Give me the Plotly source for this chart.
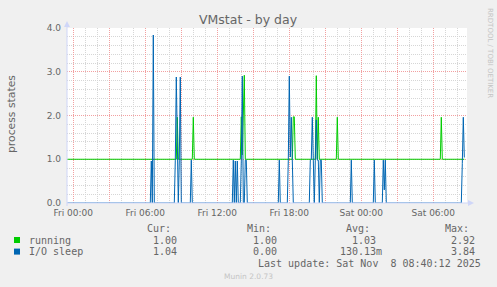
import plotly.graph_objects as go

# ---------------- data (5-minute samples) ----------------
running_times = [
    "2025-11-06 23:30", "2025-11-07 08:35", "2025-11-07 08:40", "2025-11-07 08:45",
    "2025-11-07 09:55", "2025-11-07 10:00", "2025-11-07 10:05",
    "2025-11-07 13:55", "2025-11-07 14:00", "2025-11-07 14:05", "2025-11-07 14:10",
    "2025-11-07 14:15", "2025-11-07 14:20",
    "2025-11-07 18:15", "2025-11-07 18:20", "2025-11-07 18:25", "2025-11-07 18:30",
    "2025-11-07 20:10", "2025-11-07 20:15", "2025-11-07 20:20", "2025-11-07 20:25",
    "2025-11-07 20:30",
    "2025-11-07 21:55", "2025-11-07 22:00", "2025-11-07 22:05",
    "2025-11-08 06:35", "2025-11-08 06:40", "2025-11-08 06:45", "2025-11-08 08:35",
]
running_values = [
    1.0, 1.0, 1.96, 1.0,
    1.0, 1.96, 1.0,
    1.0, 1.97, 1.1, 2.0,
    2.92, 1.0,
    1.0, 1.97, 1.97, 1.0,
    1.0, 2.91, 1.0, 1.96,
    1.0,
    1.0, 1.96, 1.0,
    1.0, 1.96, 1.0, 1.0,
]

io_times = [
    "2025-11-06 23:30",
    "2025-11-07 06:25", "2025-11-07 06:30", "2025-11-07 06:35", "2025-11-07 06:40", "2025-11-07 06:45",
    "2025-11-07 08:25", "2025-11-07 08:30", "2025-11-07 08:35", "2025-11-07 08:40",
    "2025-11-07 08:45", "2025-11-07 08:50", "2025-11-07 08:55", "2025-11-07 09:00",
    "2025-11-07 09:45", "2025-11-07 09:50", "2025-11-07 09:55",
    "2025-11-07 13:15", "2025-11-07 13:20", "2025-11-07 13:25", "2025-11-07 13:30",
    "2025-11-07 13:35", "2025-11-07 13:40", "2025-11-07 13:45",
    "2025-11-07 13:55", "2025-11-07 14:00", "2025-11-07 14:05", "2025-11-07 14:10",
    "2025-11-07 14:15", "2025-11-07 14:20", "2025-11-07 14:25", "2025-11-07 14:30",
    "2025-11-07 17:05", "2025-11-07 17:10", "2025-11-07 17:15",
    "2025-11-07 17:50", "2025-11-07 17:55", "2025-11-07 18:00", "2025-11-07 18:05",
    "2025-11-07 18:10", "2025-11-07 18:15", "2025-11-07 18:20",
    "2025-11-07 19:40", "2025-11-07 19:45", "2025-11-07 19:50", "2025-11-07 19:55",
    "2025-11-07 20:00", "2025-11-07 20:05", "2025-11-07 20:10", "2025-11-07 20:15",
    "2025-11-07 20:20", "2025-11-07 20:25", "2025-11-07 20:30", "2025-11-07 20:35",
    "2025-11-07 20:40", "2025-11-07 20:45",
    "2025-11-07 23:05", "2025-11-07 23:10", "2025-11-07 23:15",
    "2025-11-08 01:00", "2025-11-08 01:05", "2025-11-08 01:10",
    "2025-11-08 01:45", "2025-11-08 01:50", "2025-11-08 01:55", "2025-11-08 02:00",
    "2025-11-08 02:05",
    "2025-11-08 08:20", "2025-11-08 08:25", "2025-11-08 08:30", "2025-11-08 08:35",
]
io_values = [
    0.0,
    0.0, 0.96, 0.0, 3.84, 0.0,
    0.0, 0.98, 2.88, 0.98,
    0.0, 0.98, 2.88, 0.0,
    0.0, 0.98, 0.0,
    0.0, 0.98, 0.0, 0.96,
    0.0, 0.96, 0.0,
    0.0, 0.98, 2.9, 0.0,
    0.0, 0.98, 0.98, 0.0,
    0.0, 0.98, 0.0,
    0.0, 0.98, 2.9, 1.05,
    1.96, 0.98, 0.0,
    0.0, 0.98, 1.0, 1.96,
    0.98, 0.0, 0.98, 1.9,
    0.98, 0.98, 0.0, 0.98,
    0.98, 0.0,
    0.0, 0.98, 0.0,
    0.0, 0.98, 0.0,
    0.0, 0.98, 0.3, 0.98,
    0.0,
    0.0, 0.9, 1.96, 1.04,
]

x_tick_vals = ["2025-11-07 00:00", "2025-11-07 03:00", "2025-11-07 06:00", "2025-11-07 09:00",
               "2025-11-07 12:00", "2025-11-07 15:00", "2025-11-07 18:00", "2025-11-07 21:00",
               "2025-11-08 00:00", "2025-11-08 03:00", "2025-11-08 06:00"]
x_tick_text = ["Fri 00:00", "", "Fri 06:00", "", "Fri 12:00", "", "Fri 18:00", "",
               "Sat 00:00", "", "Sat 06:00"]
y_tick_vals = [0, 1, 2, 3, 4]
y_tick_text = ["0.0", "1.0", "2.0", "3.0", "4.0"]

series_names = ["running", "I/O sleep"]
series_colors = ["#00CC00", "#0066B3"]
stat_headers = ["Cur:", "Min:", "Avg:", "Max:"]
stats = [["1.00", "1.00", "1.03", "2.92"],
         ["1.04", "0.00", "130.13m", "3.84"]]

# ---------------- layout geometry (pixels) ----------------
FW, FH = 497, 287
L, T, W, H = 67, 28, 400, 175


def px(x):
    return (x - L) / W


def py(y):
    return (T + H - y) / H


FONT = "DejaVu Sans"
MONO = "DejaVu Sans Mono"
FC = "#666666"
AXIS = "#CFD6F8"

fig = go.Figure()
fig.add_trace(go.Scatter(x=running_times, y=running_values, mode="lines",
                         line=dict(color=series_colors[0], width=1), name=series_names[0],
                         hoverinfo="skip"))
fig.add_trace(go.Scatter(x=io_times, y=io_values, mode="lines",
                         line=dict(color=series_colors[1], width=1), name=series_names[1],
                         hoverinfo="skip"))

fig.update_layout(
    width=FW, height=FH,
    margin=dict(l=L, r=FW - L - W, t=T, b=FH - T - H, pad=0),
    paper_bgcolor="#F0F0F0", plot_bgcolor="#FFFFFF",
    showlegend=False,
    font=dict(family=FONT, size=9, color=FC),
)
fig.update_xaxes(
    type="date", range=["2025-11-06 23:28:30", "2025-11-08 08:48:30"],
    tickmode="array", tickvals=x_tick_vals, ticktext=x_tick_text,
    showgrid=True, gridcolor="#F2A0A0", griddash="1px,1px", gridwidth=1,
    minor=dict(dtick=3600000, tick0="2025-11-07 00:00", showgrid=True,
               gridcolor="#D6D6D6", griddash="1px,1px", gridwidth=1),
    showline=False, zeroline=False, ticks="", ticklabelstandoff=3,
    tickfont=dict(family=FONT, size=9, color=FC),
)
fig.update_yaxes(
    range=[0, 4], tickmode="array", tickvals=y_tick_vals, ticktext=y_tick_text,
    showgrid=True, gridcolor="#F2A0A0", griddash="1px,1px", gridwidth=1,
    minor=dict(dtick=0.2, tick0=0, showgrid=True,
               gridcolor="#D6D6D6", griddash="1px,1px", gridwidth=1),
    showline=False, zeroline=False, ticks="", ticklabelstandoff=5,
    tickfont=dict(family=FONT, size=9, color=FC),
)

shapes = []
# axes with arrows
shapes.append(dict(type="line", xref="paper", yref="paper", x0=px(L), x1=px(470), y0=py(203), y1=py(203),
                   line=dict(color=AXIS, width=1)))
shapes.append(dict(type="line", xref="paper", yref="paper", x0=px(L), x1=px(L), y0=py(206), y1=py(25),
                   line=dict(color=AXIS, width=1)))
shapes.append(dict(type="path", xref="paper", yref="paper",
                   path=f"M {px(468)},{py(200)} L {px(474)},{py(203)} L {px(468)},{py(206)} Z",
                   fillcolor=AXIS, line=dict(color=AXIS, width=0)))
shapes.append(dict(type="path", xref="paper", yref="paper",
                   path=f"M {px(64)},{py(27)} L {px(67)},{py(21)} L {px(70)},{py(27)} Z",
                   fillcolor=AXIS, line=dict(color=AXIS, width=0)))
# legend squares
for i, c in enumerate(series_colors):
    yc = 240 + 11.6 * i
    shapes.append(dict(type="rect", xref="paper", yref="paper",
                       x0=px(14), x1=px(20), y0=py(yc - 3), y1=py(yc + 3),
                       fillcolor=c, line=dict(width=0)))
fig.update_layout(shapes=shapes)

ann = []


def text(x, y, s, size, color=FC, family=FONT, xanchor="center", angle=0):
    ann.append(dict(x=px(x), y=py(y), xref="paper", yref="paper", text=s, showarrow=False,
                    xanchor=xanchor, yanchor="middle", textangle=angle,
                    font=dict(family=family, size=size, color=color)))


text(248, 19, "VMstat - by day", 12.5)
text(11, 114, "process states", 10.8, angle=-90)
text(490, 53, "RRDTOOL / TOBI OETIKER", 7, color="#C4C4C4", angle=90)

header_right = [172.5, 272.5, 371.7, 470.5]
value_right = [178.7, 278.7, 384.0, 477.3]
for j, h in enumerate(stat_headers):
    text(header_right[j], 228.5, h, 10, family=MONO, xanchor="right")
for i, name in enumerate(series_names):
    yc = 240 + 11.6 * i
    text(26.5, yc, name, 10, family=MONO, xanchor="left")
    for j, v in enumerate(stats[i]):
        r = value_right[j]
        if not v.endswith("m"):
            r = value_right[j] if j != 2 else 378.0
        text(r, yc, v, 10, family=MONO, xanchor="right")
text(482.5, 263.7, "Last update: Sat Nov\u00a0\u00a08 08:40:12 2025", 10, family=MONO, xanchor="right")
text(248, 276.5, "Munin 2.0.73", 7.5, color="#C4C4C4")
fig.update_layout(annotations=ann)

fig.write_html("out.html")
